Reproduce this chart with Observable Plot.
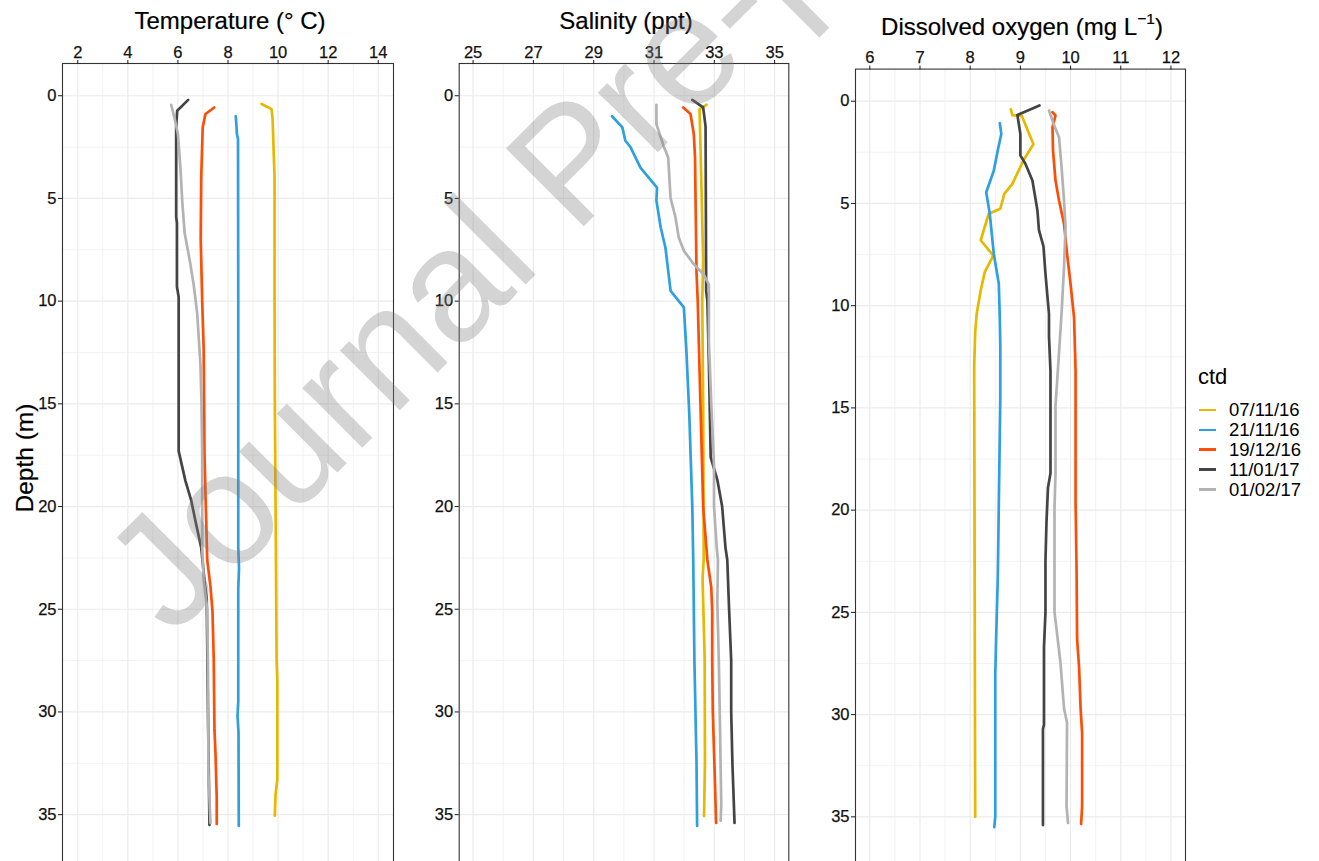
<!DOCTYPE html>
<html>
<head>
<meta charset="utf-8">
<script src="https://cdn.jsdelivr.net/npm/d3@7"></script>
<script src="https://cdn.jsdelivr.net/npm/@observablehq/plot@0.6"></script>
<style>
  html, body { margin: 0; padding: 0; overflow: hidden; background: #fff; }
  #root { position: relative; width: 1319px; height: 861px; overflow: hidden; font-family: "Liberation Sans", Arial, sans-serif; color: #000; }
  .panel { position: absolute; top: 0; }
  .panel svg text { font-size: 16.5px; font-family: "Liberation Sans", Arial, sans-serif; fill: #111; stroke: #111; stroke-width: 0.25px; }
  .title { position: absolute; font-size: 24px; line-height: 24px; white-space: nowrap; transform: translateX(-50%); -webkit-text-stroke: 0.2px #000; }
  .title sup { font-size: 15.5px; line-height: 0; position: relative; top: -2px; }
  .ylab { position: absolute; font-size: 24.5px; line-height: 24px; white-space: nowrap; width: 200px; text-align: center; transform: rotate(-90deg); -webkit-text-stroke: 0.2px #000; }
  .legend { position: absolute; left: 1198px; top: 366px; }
  .legend .lt { font-size: 22px; line-height: 22px; margin-bottom: 12px; }
  .legend .item { display: flex; align-items: center; height: 19.9px; font-size: 18.5px; }
  .legend .sw { width: 17px; height: 2.6px; margin-right: 13px; margin-left: 1px; }
  #wm { position: absolute; left: 0; top: 0; pointer-events: none; }
</style>
</head>
<body>
<div id="root"></div>
<script>
// ---------------- data ----------------
const dates = ["07/11/16", "21/11/16", "19/12/16", "11/01/17", "01/02/17"];
const lineColors = ["#E7B800", "#2E9FDF", "#FC4E07", "#444444", "#B3B3B3"];

// [depth (m), temperature (°C)]
const temp_071116 = [[0.4,9.34],[0.65,9.74],[1.1,9.78],[4,9.86],[10,9.86],[14.8,9.87],[21.6,9.91],[27.4,9.94],[28.5,9.97],[33.3,9.97],[34,9.9],[35.05,9.87]];
const temp_211116 = [[1.0,8.31],[1.9,8.36],[2.1,8.4],[10,8.41],[22,8.41],[23,8.44],[24,8.41],[29.5,8.41],[30.2,8.38],[31,8.42],[35.55,8.43]];
const temp_191216 = [[0.57,7.45],[0.89,7.1],[1.54,6.99],[4,6.93],[7,6.91],[10,6.97],[12.4,7.03],[17.4,7.06],[22.6,7.17],[23.9,7.3],[25.1,7.38],[27.4,7.43],[30.9,7.46],[32,7.5],[34.2,7.55],[35.45,7.55]];
const temp_110117 = [[0.2,6.41],[0.73,5.97],[1.5,5.93],[5.9,5.93],[6.2,5.96],[9.3,5.96],[9.8,6.03],[17.3,6.03],[18.75,6.3],[19.7,6.53],[20.7,6.7],[22,6.93],[23.6,7.06],[24.5,7.15],[30,7.2],[35.5,7.26]];
const temp_010217 = [[0.44,5.73],[1.06,5.86],[1.87,6.0],[3.5,6.1],[5.1,6.17],[6.7,6.27],[8.0,6.47],[9.2,6.63],[10.6,6.77],[13.1,6.9],[14.9,6.94],[17.4,6.97],[22,6.97],[23.6,7.03],[25,7.17],[28,7.2],[33,7.22],[35.4,7.3]];

// [depth (m), salinity (ppt)]
const sal_071116 = [[0.44,32.74],[0.65,32.51],[3,32.55],[8,32.63],[10,32.6],[15,32.63],[22.5,32.65],[23.5,32.61],[27.4,32.68],[32.4,32.69],[35.07,32.66]];
const sal_211116 = [[1.0,29.61],[1.54,29.95],[2.19,30.05],[2.5,30.22],[3.5,30.55],[4.47,31.1],[5.1,31.08],[6.4,31.22],[7.4,31.38],[9.5,31.55],[10.3,31.99],[12.3,32.07],[15.5,32.17],[20,32.27],[22.5,32.3],[27.5,32.34],[32.5,32.41],[35.55,32.43]];
const sal_191216 = [[0.57,31.97],[0.89,32.21],[1.87,32.32],[3,32.36],[8.6,32.41],[10,32.45],[15,32.54],[20,32.63],[22.6,32.77],[23.95,32.9],[25.1,32.93],[27.5,32.93],[30,32.95],[32.4,33.0],[35.4,33.06]];
const sal_110117 = [[0.2,32.27],[0.57,32.63],[1.5,32.71],[9.5,32.73],[10,32.77],[13,32.82],[17.6,32.88],[18.7,33.1],[20,33.26],[22,33.37],[22.6,33.43],[25,33.49],[27.5,33.56],[30,33.56],[32.5,33.6],[35.4,33.67]];
const sal_010217 = [[0.44,31.08],[1.38,31.08],[2.5,31.33],[3.0,31.47],[5,31.55],[5.9,31.71],[6.9,31.82],[7.55,31.99],[8.2,32.32],[8.7,32.65],[9.2,32.82],[12,32.82],[15,32.9],[18,32.99],[20,32.99],[22,33.08],[22.6,33.12],[24.7,33.1],[27.5,33.15],[30,33.18],[34.5,33.23],[35.3,33.21]];

// [depth (m), dissolved oxygen (mg/L)]
const do_071116 = [[0.4,8.81],[0.68,8.84],[0.72,9.03],[2.1,9.26],[2.9,9.06],[4.04,8.84],[4.53,8.68],[5.26,8.6],[5.5,8.37],[6.8,8.21],[7.55,8.46],[8.36,8.29],[9.26,8.21],[10.4,8.13],[11.3,8.1],[13,8.08],[35,8.1]];
const do_211116 = [[1.07,8.59],[1.6,8.62],[2.4,8.55],[3.4,8.47],[4.45,8.32],[5.5,8.39],[7.46,8.47],[8.93,8.57],[10.6,8.59],[12,8.6],[14.5,8.6],[18,8.58],[23.3,8.55],[26,8.52],[28,8.5],[35,8.5],[35.5,8.48]];
const do_191216 = [[0.54,9.64],[0.7,9.7],[1.27,9.64],[2.4,9.65],[3.88,9.7],[4.86,9.77],[6.0,9.87],[7.46,9.93],[8.93,10.0],[10.6,10.07],[13.2,10.1],[19.6,10.1],[23,10.12],[26.3,10.13],[27.7,10.17],[29.7,10.2],[30.9,10.23],[34.5,10.23],[35.35,10.21]];
const do_110117 = [[0.21,9.38],[0.67,8.94],[1.6,9.0],[2.65,9.0],[3.06,9.1],[3.88,9.24],[5.35,9.34],[6.3,9.37],[7.1,9.46],[8.44,9.5],[10.4,9.57],[11.5,9.57],[13.2,9.6],[18.2,9.6],[18.9,9.55],[20.6,9.52],[22.5,9.5],[25,9.5],[26.7,9.47],[30.5,9.47],[30.7,9.45],[35.4,9.45]];
const do_010217 = [[0.45,9.57],[1.1,9.66],[1.76,9.77],[3.2,9.82],[4.86,9.87],[6.16,9.9],[8.1,9.87],[10.4,9.82],[12.3,9.77],[14.9,9.7],[18.2,9.7],[19.9,9.68],[25,9.68],[25.8,9.72],[27.5,9.8],[29.7,9.87],[30.4,9.93],[34.5,9.92],[35.3,9.95]];

// tick labels / scale domains
const tempTicks = [2, 4, 6, 8, 10, 12, 14];
const tempMinor = [3, 5, 7, 9, 11, 13];
const salTicks = [25, 27, 29, 31, 33, 35];
const salMinor = [26, 28, 30, 32, 34];
const doTicks = [6, 7, 8, 9, 10, 11, 12];
const doMinor = [6.5, 7.5, 8.5, 9.5, 10.5, 11.5];
const depthTicks = [0, 5, 10, 15, 20, 25, 30, 35];
const depthMinor = [2.5, 7.5, 12.5, 17.5, 22.5, 27.5, 32.5];
const tempDomain = [1.39, 14.61];
const salDomain = [24.54, 35.47];
const doDomain = [5.715, 12.29];
const depthDomain = [-1.57, 37.33];

// ---------------- build ----------------
const FONT = '"Liberation Sans", Arial, sans-serif';
function table(series) {
  return series.flatMap((s, i) => s.map(([depth, value]) => ({ctd: dates[i], depth, value})));
}
const tempData = table([temp_071116, temp_211116, temp_191216, temp_110117, temp_010217]);
const salData = table([sal_071116, sal_211116, sal_191216, sal_110117, sal_010217]);
const doData = table([do_071116, do_211116, do_191216, do_110117, do_010217]);

const root = document.getElementById("root");

function panel(data, xDomain, xTicks, xMinor, left, width, ml, mr, mt, height) {
  const svg = Plot.plot({
    width, height,
    marginLeft: ml, marginRight: mr, marginTop: mt, marginBottom: 0,
    style: {fontFamily: FONT, fontSize: "16.5px", background: "transparent", overflow: "visible"},
    x: {domain: xDomain},
    y: {domain: depthDomain, reverse: true},
    color: {domain: dates, range: lineColors},
    marks: [
      Plot.ruleX(xMinor, {stroke: "#ececec", strokeWidth: 0.7}),
      Plot.ruleY(depthMinor, {stroke: "#ececec", strokeWidth: 0.7}),
      Plot.ruleX(xTicks, {stroke: "#ebebeb", strokeWidth: 1.2}),
      Plot.ruleY(depthTicks, {stroke: "#ebebeb", strokeWidth: 1.2}),
      Plot.line(data, {x: "value", y: "depth", z: "ctd", stroke: "ctd", strokeWidth: 2.7}),
      Plot.frame({stroke: "#333333", strokeWidth: 1.1}),
      Plot.axisX(xTicks, {anchor: "top", tickSize: 4, tickPadding: 2, fontSize: 16.5, label: null, color: "#1a1a1a"}),
      Plot.axisY(depthTicks, {anchor: "left", tickSize: 4, tickPadding: 2, fontSize: 16.5, label: null, color: "#1a1a1a"})
    ]
  });
  const wrap = document.createElement("div");
  wrap.className = "panel";
  wrap.style.left = left + "px";
  wrap.appendChild(svg);
  root.appendChild(wrap);
}

panel(tempData, tempDomain, tempTicks, tempMinor, 0, 400, 62, 7, 63, 862);
panel(salData, salDomain, salTicks, salMinor, 400, 400, 58.7, 11.7, 63, 862);
panel(doData, doDomain, doTicks, doMinor, 800, 390, 55, 5, 68.6, 864);

function addDiv(cls, html, css) {
  const d = document.createElement("div");
  d.className = cls;
  d.innerHTML = html;
  Object.assign(d.style, css);
  root.appendChild(d);
  return d;
}
addDiv("title", "Temperature (&deg; C)", {left: "230px", top: "9px"});
addDiv("title", "Salinity (ppt)", {left: "626px", top: "9px"});
addDiv("title", "Dissolved oxygen (mg L<sup>&minus;1</sup>)", {left: "1022px", top: "14.7px"});
addDiv("ylab", "Depth (m)", {left: "-75px", top: "446px"});

// legend
const lg = document.createElement("div");
lg.className = "legend";
lg.innerHTML = '<div class="lt">ctd</div>' + dates.map((d, i) =>
  `<div class="item"><span class="sw" style="background:${lineColors[i]}"></span><span>${d}</span></div>`).join("");
root.appendChild(lg);

// watermark
const ns = "http://www.w3.org/2000/svg";
const wm = document.createElementNS(ns, "svg");
wm.setAttribute("id", "wm");
wm.setAttribute("width", 1319);
wm.setAttribute("height", 861);
const t = document.createElementNS(ns, "text");
t.setAttribute("x", 172);
t.setAttribute("y", 638);
t.setAttribute("transform", "rotate(-45 172 638)");
t.setAttribute("font-size", 160);
t.setAttribute("font-family", FONT);
t.setAttribute("fill", "#808080");
t.setAttribute("fill-opacity", 0.34);
t.textContent = "Journal Pre-proof";
wm.appendChild(t);
root.appendChild(wm);
</script>
</body>
</html>
